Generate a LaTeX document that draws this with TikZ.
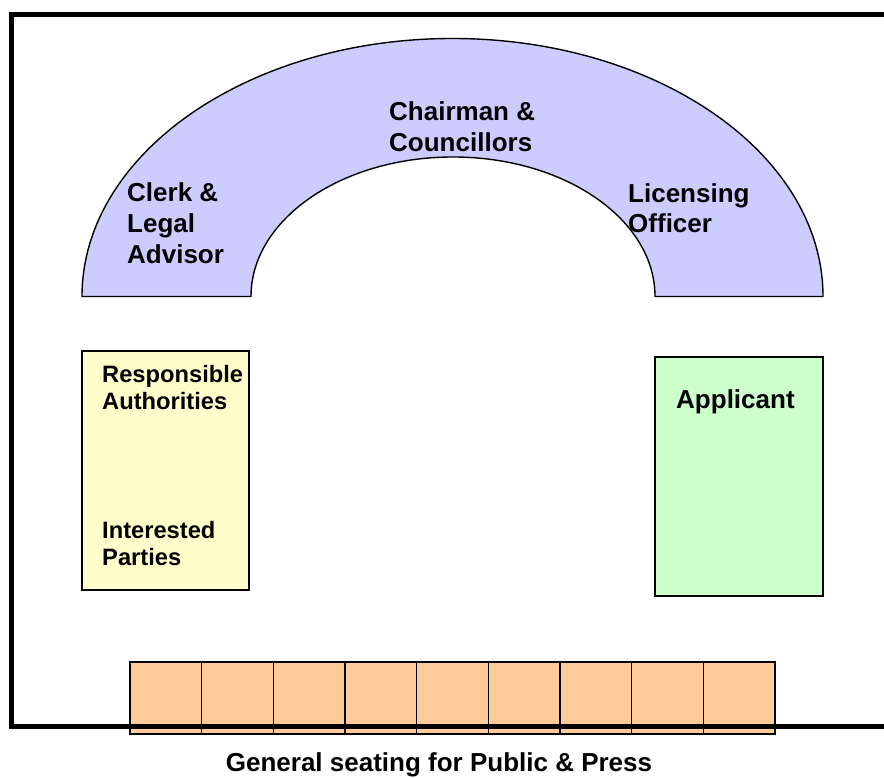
\documentclass[tikz,border=0pt]{standalone}
\usepackage{fontspec}
\setmainfont{Liberation Sans}
\usetikzlibrary{positioning}
\definecolor{archblue}{HTML}{CCCCFF}
\definecolor{partyyellow}{HTML}{FFFFCC}
\definecolor{applgreen}{HTML}{CCFFCC}
\definecolor{seatpeach}{HTML}{FFCC99}

\begin{document}
\begin{tikzpicture}[x=1pt,y=1pt]
			\tikzset{area/.style = {draw, line width=1.4pt},
				txt/.style = {inner sep=0pt, anchor=base west, align=left, font=\fontsize{26}{31}\selectfont\bfseries},
				smalltxt/.style = {txt, font=\fontsize{23.7}{27.5}\selectfont\bfseries},
				seat/.style = {area, fill=seatpeach, line width=1.2pt}}
			\useasboundingbox (0,0) rectangle (884,778);
			\fill[white] (0,0) rectangle (884,778);
			
			\path[area, fill=archblue] (82,481.5) arc[start angle=180, end angle=0, x radius=370.5, y radius=258]
				-- (655,481.5) arc[start angle=0, end angle=180, x radius=202, y radius=139.5] -- cycle;
			\path[area, fill=partyyellow] (82,427) rectangle (249,188);
			\path[area, fill=applgreen] (655,421) rectangle (823,182);
			
			\foreach \i in {0,...,8}
				\path[seat] (130+71.67*\i,116) rectangle (130+71.67*\i+71.67,44);
			
			\draw[line width=5pt] (884,763) -- (11,763) -- (11,51) -- (884,51);
			
			\node[txt] (CHAIR) at (389,626) {Chairman \&\\Councillors};
			\node[txt] (CLERK) at (127,514) {Clerk \&\\Legal\\Advisor};
			\node[txt, font=\fontsize{26}{30}\selectfont\bfseries] (OFFICER) at (628,545) {Licensing\\Officer};
			\node[smalltxt] (AUTH) at (102,368) {Responsible\\Authorities};
			\node[smalltxt] (PARTIES) at (102,212) {Interested\\Parties};
			\node[txt] (APPL) at (676,369) {Applicant};
			\node[txt, anchor=base] (PUBLIC) at (439,6) {General seating for Public \& Press};
			\end{tikzpicture}
\end{document}
